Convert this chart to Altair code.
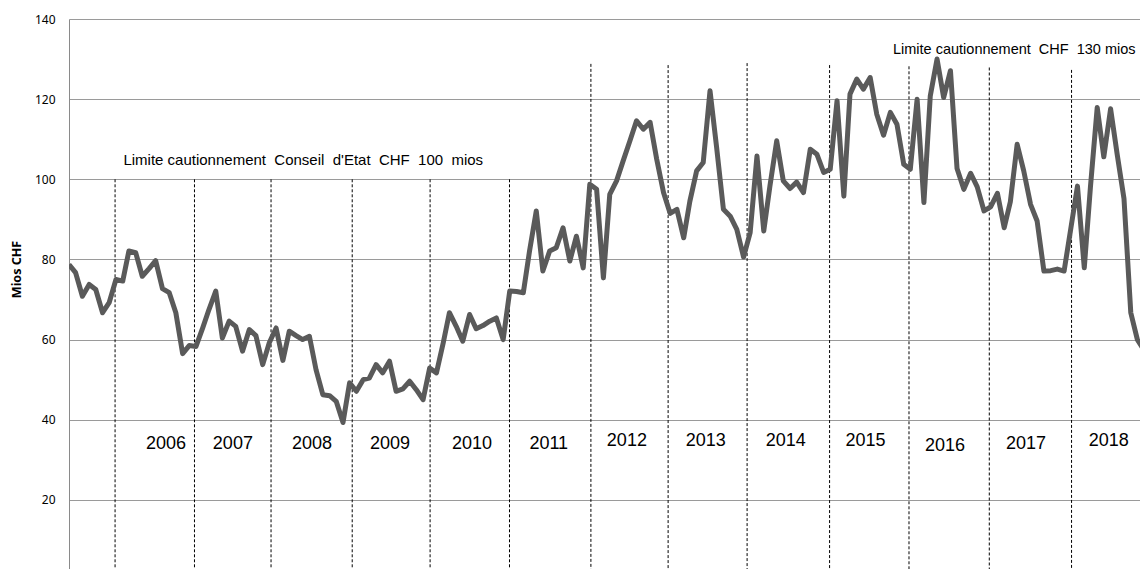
import altair as alt
import pandas as pd

# Monthly values (Mios CHF), June 2005 -> December 2018
values_2005 = [78.75, 76.7, 70.8, 73.75, 72.5, 66.7, 69.2]
values_2006 = [75.0, 74.6, 82.1, 81.7, 75.8, 77.7, 79.7, 72.7, 71.7, 66.7, 56.5, 58.5]
values_2007 = [58.3, 63.0, 67.5, 72.1, 60.4, 64.6, 63.3, 57.1, 62.5, 61.0, 53.75, 59.2]
values_2008 = [62.9, 54.8, 62.1, 61.0, 60.0, 60.8, 52.5, 46.25, 46.0, 44.6, 39.3, 49.2]
values_2009 = [47.1, 50.0, 50.4, 53.75, 51.7, 54.6, 47.1, 47.7, 49.6, 47.5, 45.0, 52.9]
values_2010 = [51.7, 59.2, 66.7, 63.3, 59.6, 66.25, 62.7, 63.5, 64.6, 65.4, 60.0, 72.1]
values_2011 = [72.0, 71.7, 82.0, 92.1, 77.1, 82.1, 82.9, 87.9, 79.6, 85.8, 77.9, 98.75]
values_2012 = [97.5, 75.4, 96.25, 99.6, 104.6, 109.6, 114.6, 112.5, 114.2, 105.0, 96.7, 91.5]
values_2013 = [92.5, 85.4, 94.5, 102.1, 104.2, 122.1, 108.0, 92.5, 90.8, 87.5, 80.6, 86.7]
values_2014 = [105.8, 87.1, 98.3, 109.6, 99.6, 97.7, 99.3, 96.7, 107.5, 106.25, 101.7, 102.5]
values_2015 = [119.6, 95.8, 121.25, 125.0, 122.5, 125.4, 116.25, 111.0, 116.7, 113.75, 103.75, 102.5]
values_2016 = [120.0, 94.2, 120.8, 130.0, 120.4, 127.1, 102.7, 97.5, 101.5, 98.1, 92.1, 93.1]
values_2017 = [96.5, 87.9, 94.4, 108.75, 102.1, 93.75, 89.6, 77.1, 77.2, 77.6, 77.1, 87.5]
values_2018 = [98.3, 77.9, 98.0, 117.9, 105.6, 117.6, 106.2, 95.2, 66.7, 60.0, 57.3, 94.0]

values = (values_2005 + values_2006 + values_2007 + values_2008 + values_2009
          + values_2010 + values_2011 + values_2012 + values_2013 + values_2014
          + values_2015 + values_2016 + values_2017 + values_2018)

# Year separators (dashed lines) and the level where each one starts
break_dates = ["2005-12-28", "2006-12-25", "2007-12-09", "2008-12-13", "2009-12-03",
               "2010-11-30", "2011-12-06", "2012-11-22", "2013-11-17", "2014-11-28",
               "2015-11-25", "2016-11-25", "2017-12-05"]
break_tops = [100, 100, 100, 100, 100, 100, 128.8, 128.5, 129.0, 128.5, 128.2, 127.9, 127.3]

# Year labels and where they sit along the time axis
year_labels = ["2006", "2007", "2008", "2009", "2010", "2011", "2012",
               "2013", "2014", "2015", "2016", "2017", "2018"]
year_label_dates = ["2006-08-17", "2007-06-18", "2008-06-13", "2009-06-03", "2010-06-12",
                    "2011-05-28", "2012-05-18", "2013-05-13", "2014-05-12", "2015-05-11",
                    "2016-05-07", "2017-05-11", "2018-05-24"]
year_label_values = [34, 34, 34, 34, 34, 34, 34.75, 34.75, 34.75, 34.75, 33.5, 34, 34.75]

# Annotations
NB = "\u00a0"
ann_texts = ["Limite cautionnement" + NB + " Conseil" + NB + " d'Etat" + NB + " CHF" + NB + " 100" + NB + " mios",
             "Limite cautionnement" + NB + " CHF" + NB + " 130 mios"]
ann_dates = ["2006-02-04", "2015-09-13"]
ann_values = [104.75, 132.25]

y_ticks = [20, 40, 60, 80, 100, 120, 140]

# ---- tables ----
dates = pd.date_range("2005-06-01", periods=len(values), freq="MS")
df = pd.DataFrame({"date": dates, "value": values})

bd = pd.to_datetime(break_dates)
df_breaks = pd.DataFrame({"date": bd, "top": break_tops, "bottom": [0] * len(bd)})

df_years = pd.DataFrame({"date": pd.to_datetime(year_label_dates),
                         "value": year_label_values, "label": year_labels})

df_ann1 = pd.DataFrame({"date": pd.to_datetime(ann_dates[:1]), "value": ann_values[:1], "text": ann_texts[:1]})
df_ann2 = pd.DataFrame({"date": pd.to_datetime(ann_dates[1:]), "value": ann_values[1:], "text": ann_texts[1:]})

x_scale = alt.Scale(domain=[alt.DateTime(year=2005, month=6, date=1),
                            alt.DateTime(year=2018, month=10, date=13)])
y_scale = alt.Scale(domain=[2.75, 140], nice=False, zero=False)

y_axis = alt.Axis(values=y_ticks, grid=True, gridColor="#9a9a9a", gridWidth=1.2,
                  domain=True, domainColor="#8a8a8a", domainWidth=1, ticks=False,
                  labelPadding=14, labelFont="Noto Sans", labelFontSize=12, labelColor="#000",
                  title="Mios CHF", titleFont="Noto Sans", titleFontSize=12.5,
                  titleFontWeight="bold", titleColor="#000",
                  titleX=-53, titleY=250, titleAlign="center", titleBaseline="middle")

base_x = alt.X("date:T", scale=x_scale, axis=None)

rules = alt.Chart(df_breaks).mark_rule(color="black", strokeWidth=1, strokeDash=[3, 2], clip=True).encode(
    x=base_x,
    y=alt.Y("top:Q", scale=y_scale, axis=y_axis),
    y2="bottom:Q",
)

line = alt.Chart(df).mark_line(color="#5a5a5a", strokeWidth=5, clip=True, strokeJoin="round").encode(
    x=base_x,
    y=alt.Y("value:Q", scale=y_scale),
)

years = alt.Chart(df_years).mark_text(font="Liberation Sans", fontSize=18, color="black",
                                      align="center", baseline="middle", clip=True).encode(
    x=base_x,
    y=alt.Y("value:Q", scale=y_scale),
    text="label:N",
)

ann1 = alt.Chart(df_ann1).mark_text(font="Liberation Sans", fontSize=15, color="black",
                                    align="left", baseline="middle").encode(
    x=base_x,
    y=alt.Y("value:Q", scale=y_scale),
    text="text:N",
)

ann2 = alt.Chart(df_ann2).mark_text(font="Liberation Sans", fontSize=14.5, color="black",
                                    align="left", baseline="middle").encode(
    x=base_x,
    y=alt.Y("value:Q", scale=y_scale),
    text="text:N",
)

chart = alt.layer(rules, line, years, ann1, ann2).properties(
    width=1071, height=550,
    padding={"left": 61, "top": 11, "right": 0, "bottom": 0},
    autosize=alt.AutoSizeParams(type="none"),
    background="white",
).configure_view(strokeWidth=0)

chart.save("out.html", embed_options={"renderer": "svg", "actions": False})
